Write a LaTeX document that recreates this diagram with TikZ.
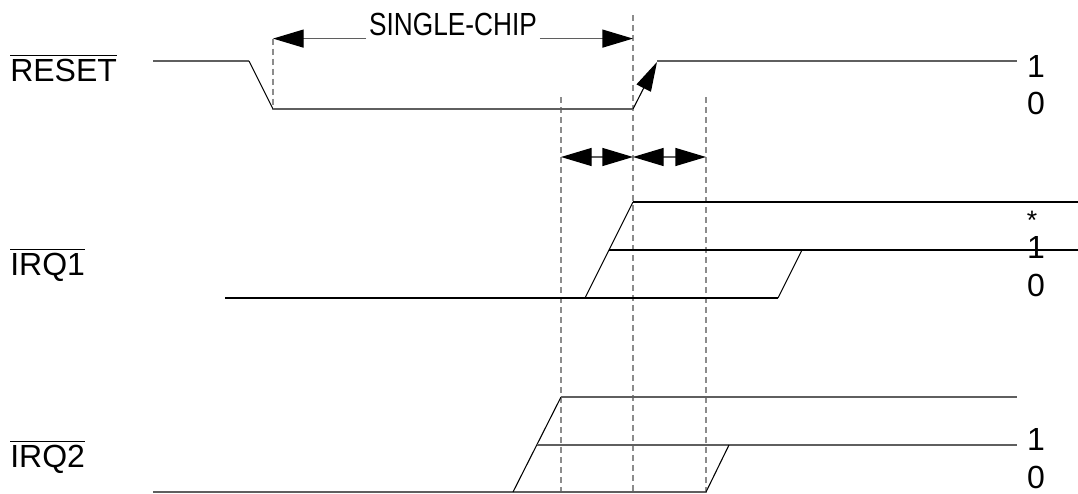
\documentclass[tikz,border=0pt]{standalone}
\usepackage{fontspec}
\usepackage{graphicx}
\setmainfont{Liberation Sans}
\usetikzlibrary{arrows.meta}
\definecolor{sgray}{RGB}{95,95,95}
\definecolor{dgray}{RGB}{140,140,140}
\newcommand\ovlbar[1]{\vbox{\hrule height 1.3pt\kern 1.8pt\hbox{#1}}}
\begin{document}
\begin{tikzpicture}[x=0.75pt,y=-0.75pt,
  sig/.style={draw=sgray, line width=1pt},
  sigk/.style={draw=black, line width=0.8pt},
  edge/.style={draw=black, line width=0.8pt},
  guide/.style={draw=dgray, line width=1pt, dash pattern=on 4.5pt off 3pt},
  lab/.style={font=\fontsize{24pt}{28pt}\selectfont, inner sep=0pt, anchor=base},
  dimarrow/.style={-{Triangle[length=23pt,width=13.5pt,color=black]}},
  dimboth/.style={{Triangle[length=23pt,width=13.5pt,color=black]}-{Triangle[length=23pt,width=13.5pt,color=black]}},
  risearrow/.style={-{Triangle[length=22pt,width=12pt,color=black]}},
]
\useasboundingbox (0,0) rectangle (1078,493);

% left labels
\node[lab, anchor=base west] (lreset) at (10,81) {\ovlbar{RESET}};
\node[lab, anchor=base west] (lirq1) at (10,275) {\ovlbar{IRQ1}};
\node[lab, anchor=base west] (lirq2) at (10,467) {\ovlbar{IRQ2}};

% right labels
\node[lab] (r1) at (1036,77) {1};
\node[lab] (r0) at (1036,114.5) {0};
\node[lab, font=\fontsize{20pt}{24pt}\selectfont] (ast) at (1032,229) {*};
\node[lab] (q1) at (1036,258) {1};
\node[lab] (q0) at (1036,296) {0};
\node[lab] (p1) at (1036,450) {1};
\node[lab] (p0) at (1036,488) {0};

% guides
\coordinate (ga) at (273,38.6);
\coordinate (gb) at (633,15);
\coordinate (gc) at (561,97);
\coordinate (gd) at (706,97);
\draw[guide] (ga) -- (273,109);
\draw[guide] (gb) -- (633,493);
\draw[guide] (gc) -- (561,493);
\draw[guide] (gd) -- (706,493);

% SINGLE-CHIP
\node[lab, inner xsep=2pt] (sc) at (453,35) {\scalebox{0.82}[1]{SINGLE-CHIP}};
\coordinate (sa) at (633,38.6);
\draw[sig, dimarrow] (sc.west |- ga) -- (ga);
\draw[sig, dimarrow] (sc.east |- sa) -- (sa);

% RESET signal
\coordinate (a0) at (153,61);
\coordinate (a1) at (249,61);
\coordinate (a2) at (273,109);
\coordinate (a3) at (633,109);
\coordinate (a4) at (657,62);
\coordinate (a5) at (1017,61);
\draw[sig] (a0) -- (a1);
\draw[edge] (a1) -- (a2);
\draw[sig] (a2) -- (a3);
\draw[edge, risearrow] (a3) -- (a4);
\draw[sig] (a4 |- a5) -- (a5);

% timing arrows
\coordinate (t0) at (561,157);
\coordinate (t1) at (633,157);
\coordinate (t2) at (706,157);
\draw[sig, dimboth] (t0) -- (t1);
\draw[sig, dimboth] (t1) -- (t2);

% IRQ1
\coordinate (b0) at (225,298);
\coordinate (b1) at (585,298);
\coordinate (b2) at (633,202);
\coordinate (b3) at (1078,202);
\coordinate (b4) at (609,250);
\coordinate (b5) at (1078,250);
\coordinate (b6) at (778,298);
\coordinate (b7) at (802,250);
\draw[sigk] (b0) -- (b6);
\draw[edge] (b1) -- (b2);
\draw[sigk] (b2) -- (b3);
\draw[sigk] (b4) -- (b5);
\draw[edge] (b6) -- (b7);

% IRQ2
\coordinate (c0) at (153,492);
\coordinate (c1) at (513,492);
\coordinate (c2) at (561,397);
\coordinate (c3) at (1017,397);
\coordinate (c4) at (537,445);
\coordinate (c5) at (1017,445);
\coordinate (c6) at (706,492);
\coordinate (c7) at (729,445);
\draw[sig] (c0) -- (c6);
\draw[edge] (c1) -- (c2);
\draw[sig] (c2) -- (c3);
\draw[sig] (c4) -- (c5);
\draw[edge] (c6) -- (c7);
\end{tikzpicture}
\end{document}
